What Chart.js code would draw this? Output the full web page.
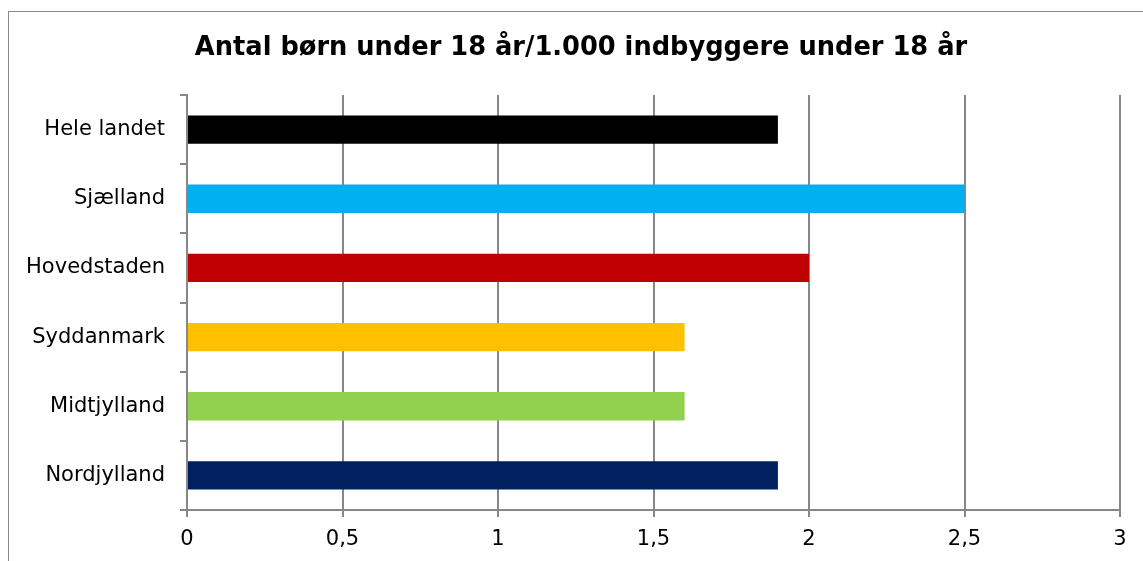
<!DOCTYPE html>
<html>
<head>
<meta charset="utf-8">
<script src="https://cdn.jsdelivr.net/npm/chart.js@4/dist/chart.umd.min.js"></script>
<style>
  body { margin: 0; background: #fff; overflow: hidden; }
  #wrap { position: absolute; left: 0; top: 0; width: 1143px; height: 561px; }
  #frame { position: absolute; left: 8px; top: 11px; width: 1200px; height: 600px; border: 1px solid #8a8a8a; }
</style>
</head>
<body>
<div id="frame"></div>
<div id="wrap"><canvas id="chart" width="1143" height="561"></canvas></div>
<script>
const regions = ["Hele landet", "Sjælland", "Hovedstaden", "Syddanmark", "Midtjylland", "Nordjylland"];
const values = [1.9, 2.5, 2.0, 1.6, 1.6, 1.9];
const barColors = ["#000000", "#00B0F0", "#C00000", "#FFC000", "#92D050", "#002060"];
const xTicks = [0, 0.5, 1, 1.5, 2, 2.5, 3];

const gray = "#878787";
const font = "'DejaVu Sans', Verdana, sans-serif";

// title in the original sits a bit right of the canvas centre
const shiftTitle = {
  id: "shiftTitle",
  afterLayout(chart) {
    if (chart.titleBlock) chart.titleBlock.left += 42;
  }
};

new Chart(document.getElementById("chart"), {
  type: "bar",
  data: {
    labels: regions,
    datasets: [{
      data: values,
      backgroundColor: barColors,
      borderWidth: 0,
      barPercentage: 0.41,
      categoryPercentage: 1
    }]
  },
  options: {
    indexAxis: "y",
    responsive: false,
    animation: false,
    devicePixelRatio: 1,
    layout: { padding: { top: 0, right: 23, bottom: 0, left: 0 } },
    plugins: {
      legend: { display: false },
      tooltip: { enabled: false },
      title: {
        display: true,
        text: "Antal børn under 18 år/1.000 indbyggere under 18 år",
        color: "#000",
        font: { family: font, size: 25.7, weight: "bold", lineHeight: 1.2 },
        padding: { top: 32.5, bottom: 31.7 }
      }
    },
    scales: {
      x: {
        min: 0,
        max: 3,
        afterBuildTicks: s => { s.ticks = xTicks.map(v => ({ value: v })); },
        afterFit: s => { s.height = 51; },
        grid: { color: gray, lineWidth: 2, tickLength: 7, drawTicks: true },
        border: { color: gray, width: 2 },
        ticks: {
          color: "#000",
          padding: 10,
          maxRotation: 0,
          font: { family: font, size: 21 },
          callback: v => String(v).replace(".", ",")
        }
      },
      y: {
        afterFit: s => { s.width = 187; },
        grid: { drawOnChartArea: false, color: gray, lineWidth: 2, tickLength: 7 },
        border: { color: gray, width: 2 },
        ticks: {
          color: "#000",
          padding: 15,
          font: { family: font, size: 21 }
        }
      }
    }
  },
  plugins: [shiftTitle]
});
</script>
</body>
</html>
